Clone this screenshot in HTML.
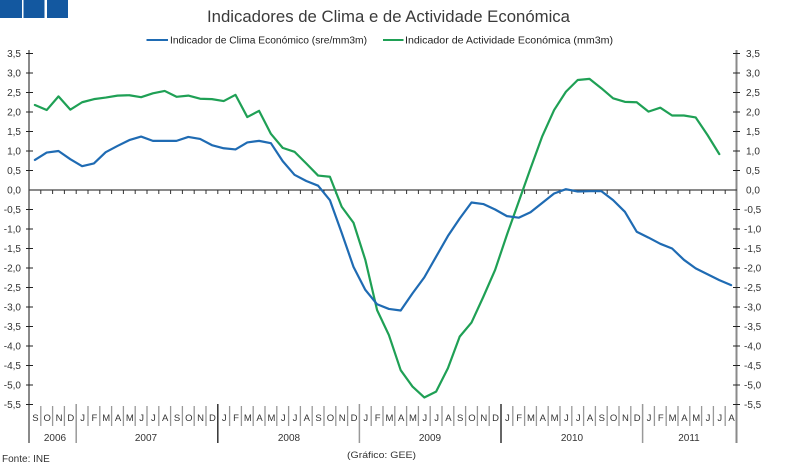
<!DOCTYPE html>
<html><head><meta charset="utf-8"><style>
html,body{margin:0;padding:0;background:#fff;}
svg{display:block;font-family:"Liberation Sans",sans-serif;}
</style></head><body>
<svg width="793" height="468" viewBox="0 0 793 468" xmlns="http://www.w3.org/2000/svg">
<rect x="0" y="0" width="793" height="468" fill="#fff"/>
<rect x="0" y="0" width="22" height="18" fill="#1358a0"/>
<rect x="23.5" y="0" width="21" height="18" fill="#1358a0"/>
<rect x="47" y="0" width="21" height="18" fill="#1358a0"/>
<text x="207" y="22" font-size="16.5" fill="#3a3a3a" textLength="363" lengthAdjust="spacingAndGlyphs">Indicadores de Clima e de Actividade Económica</text>
<line x1="146.5" y1="40" x2="168" y2="40" stroke="#1f6bb3" stroke-width="2"/>
<text x="170" y="43.5" font-size="10" fill="#222" textLength="197" lengthAdjust="spacingAndGlyphs">Indicador de Clima Económico (sre/mm3m)</text>
<line x1="383" y1="40" x2="403.5" y2="40" stroke="#1fa055" stroke-width="2"/>
<text x="405" y="43.5" font-size="10" fill="#222" textLength="208" lengthAdjust="spacingAndGlyphs">Indicador de Actividade Económica (mm3m)</text>

<!-- axes -->
<line x1="29" y1="50" x2="29" y2="443" stroke="#8a8a8a" stroke-width="2"/>
<line x1="736.5" y1="50" x2="736.5" y2="443" stroke="#8a8a8a" stroke-width="2"/>
<g stroke="#222" stroke-width="1">
<path d="M26 53.5H33M26 73H33M26 92.5H33M26 112H33M26 131.5H33M26 151H33M26 170.5H33M26 209.5H33M26 229H33M26 248.5H33M26 268H33M26 287.5H33M26 307H33M26 326.5H33M26 346H33M26 365.5H33M26 385H33M26 404.5H33"/>
<path d="M733 53.5H740M733 73H740M733 92.5H740M733 112H740M733 131.5H740M733 151H740M733 170.5H740M733 209.5H740M733 229H740M733 248.5H740M733 268H740M733 287.5H740M733 307H740M733 326.5H740M733 346H740M733 365.5H740M733 385H740M733 404.5H740"/>
</g>
<line x1="29" y1="190" x2="737" y2="190" stroke="#444" stroke-width="1.2"/>
<g id="zt" stroke="#333" stroke-width="1">
<path d="M40.8 190v4M52.6 190v4M64.4 190v4M76.2 190v4M88 190v4M99.8 190v4M111.6 190v4M123.4 190v4M135.2 190v4M147 190v4M158.8 190v4M170.6 190v4M182.4 190v4M194.2 190v4M206 190v4M217.8 190v4M229.6 190v4M241.4 190v4M253.2 190v4M265 190v4M276.8 190v4M288.6 190v4M300.4 190v4M312.2 190v4M324 190v4M335.8 190v4M347.6 190v4M359.4 190v4M371.2 190v4M383 190v4M394.8 190v4M406.6 190v4M418.4 190v4M430.2 190v4M442 190v4M453.8 190v4M465.6 190v4M477.4 190v4M489.2 190v4M501 190v4M512.8 190v4M524.6 190v4M536.4 190v4M548.2 190v4M560 190v4M571.8 190v4M583.6 190v4M595.4 190v4M607.2 190v4M619 190v4M630.8 190v4M642.6 190v4M654.4 190v4M666.2 190v4M678 190v4M689.8 190v4M701.6 190v4M713.4 190v4M725.2 190v4"/>
</g>

<!-- y labels left -->
<g font-size="10" fill="#333" text-anchor="end">
<text x="21" y="57">3,5</text><text x="21" y="76.5">3,0</text><text x="21" y="96">2,5</text><text x="21" y="115.5">2,0</text><text x="21" y="135">1,5</text><text x="21" y="154.5">1,0</text><text x="21" y="174">0,5</text><text x="21" y="193.5">0,0</text><text x="21" y="213">-0,5</text><text x="21" y="232.5">-1,0</text><text x="21" y="252">-1,5</text><text x="21" y="271.5">-2,0</text><text x="21" y="291">-2,5</text><text x="21" y="310.5">-3,0</text><text x="21" y="330">-3,5</text><text x="21" y="349.5">-4,0</text><text x="21" y="369">-4,5</text><text x="21" y="388.5">-5,0</text><text x="21" y="408">-5,5</text>
</g>
<g font-size="10" fill="#333">
<text x="746" y="57">3,5</text><text x="746" y="76.5">3,0</text><text x="746" y="96">2,5</text><text x="746" y="115.5">2,0</text><text x="746" y="135">1,5</text><text x="746" y="154.5">1,0</text><text x="746" y="174">0,5</text><text x="746" y="193.5">0,0</text><text x="744" y="213">-0,5</text><text x="744" y="232.5">-1,0</text><text x="744" y="252">-1,5</text><text x="744" y="271.5">-2,0</text><text x="744" y="291">-2,5</text><text x="744" y="310.5">-3,0</text><text x="744" y="330">-3,5</text><text x="744" y="349.5">-4,0</text><text x="744" y="369">-4,5</text><text x="744" y="388.5">-5,0</text><text x="744" y="408">-5,5</text>
</g>

<!-- bottom category axis -->
<g stroke="#999" stroke-width="1.3">
<path d="M40.8 406v20M52.6 406v20M64.4 406v20M88 406v20M99.8 406v20M111.6 406v20M123.4 406v20M135.2 406v20M147 406v20M158.8 406v20M170.6 406v20M182.4 406v20M194.2 406v20M206 406v20M229.6 406v20M241.4 406v20M253.2 406v20M265 406v20M276.8 406v20M288.6 406v20M300.4 406v20M312.2 406v20M324 406v20M335.8 406v20M347.6 406v20M371.2 406v20M383 406v20M394.8 406v20M406.6 406v20M418.4 406v20M430.2 406v20M442 406v20M453.8 406v20M465.6 406v20M477.4 406v20M489.2 406v20M512.8 406v20M524.6 406v20M536.4 406v20M548.2 406v20M560 406v20M571.8 406v20M583.6 406v20M595.4 406v20M607.2 406v20M619 406v20M630.8 406v20M654.4 406v20M666.2 406v20M678 406v20M689.8 406v20M701.6 406v20M713.4 406v20M725.2 406v20"/>
</g>
<g stroke-width="1.5">
<line x1="76.2" y1="404" x2="76.2" y2="443" stroke="#999"/>
<line x1="217.8" y1="404" x2="217.8" y2="443" stroke="#333"/>
<line x1="359.4" y1="404" x2="359.4" y2="443" stroke="#999"/>
<line x1="501" y1="404" x2="501" y2="443" stroke="#333"/>
<line x1="642.6" y1="404" x2="642.6" y2="443" stroke="#999"/>
</g>
<g font-size="9.5" fill="#333" text-anchor="middle">
<text x="35.4" y="421">S</text><text x="47.2" y="421">O</text><text x="59" y="421">N</text><text x="70.8" y="421">D</text>
<text x="82.6" y="421">J</text><text x="94.4" y="421">F</text><text x="106.2" y="421">M</text><text x="118" y="421">A</text><text x="129.8" y="421">M</text><text x="141.6" y="421">J</text><text x="153.4" y="421">J</text><text x="165.2" y="421">A</text><text x="177" y="421">S</text><text x="188.8" y="421">O</text><text x="200.6" y="421">N</text><text x="212.4" y="421">D</text>
<text x="224.2" y="421">J</text><text x="236" y="421">F</text><text x="247.8" y="421">M</text><text x="259.6" y="421">A</text><text x="271.4" y="421">M</text><text x="283.2" y="421">J</text><text x="295" y="421">J</text><text x="306.8" y="421">A</text><text x="318.6" y="421">S</text><text x="330.4" y="421">O</text><text x="342.2" y="421">N</text><text x="354" y="421">D</text>
<text x="365.8" y="421">J</text><text x="377.6" y="421">F</text><text x="389.4" y="421">M</text><text x="401.2" y="421">A</text><text x="413" y="421">M</text><text x="424.8" y="421">J</text><text x="436.6" y="421">J</text><text x="448.4" y="421">A</text><text x="460.2" y="421">S</text><text x="472" y="421">O</text><text x="483.8" y="421">N</text><text x="495.6" y="421">D</text>
<text x="507.4" y="421">J</text><text x="519.2" y="421">F</text><text x="531" y="421">M</text><text x="542.8" y="421">A</text><text x="554.6" y="421">M</text><text x="566.4" y="421">J</text><text x="578.2" y="421">J</text><text x="590" y="421">A</text><text x="601.8" y="421">S</text><text x="613.6" y="421">O</text><text x="625.4" y="421">N</text><text x="637.2" y="421">D</text>
<text x="649" y="421">J</text><text x="660.8" y="421">F</text><text x="672.6" y="421">M</text><text x="684.4" y="421">A</text><text x="696.2" y="421">M</text><text x="708" y="421">J</text><text x="719.8" y="421">J</text><text x="731.6" y="421">A</text>
</g>
<g font-size="10" fill="#333" text-anchor="middle">
<text x="55" y="441">2006</text><text x="146" y="441">2007</text><text x="289" y="441">2008</text><text x="430" y="441">2009</text><text x="572" y="441">2010</text><text x="689" y="441">2011</text>
</g>
<text x="2" y="462" font-size="10" fill="#333">Fonte: INE</text>
<text x="347" y="458" font-size="9.5" fill="#333" textLength="69" lengthAdjust="spacingAndGlyphs">(Gráfico: GEE)</text>

<!-- series -->
<g transform="translate(34.9,190) scale(11.8,-39)" fill="none" stroke-linejoin="round" stroke-linecap="round">
<polyline vector-effect="non-scaling-stroke" stroke="#1fa055" stroke-width="2.2" points="0,2.18 1,2.05 2,2.40 3,2.06 4,2.25 5,2.33 6,2.37 7,2.42 8,2.43 9,2.38 10,2.48 11,2.54 12,2.39 13,2.42 14,2.34 15,2.33 16,2.28 17,2.44 18,1.87 19,2.03 20,1.44 21,1.08 22,0.98 23,0.68 24,0.37 25,0.34 26,-0.43 27,-0.84 28,-1.79 29,-3.08 30,-3.72 31,-4.62 32,-5.04 33,-5.32 34,-5.17 35,-4.57 36,-3.76 37,-3.40 38,-2.74 39,-2.05 40,-1.15 41,-0.3 42,0.55 43,1.38 44,2.05 45,2.52 46,2.82 47,2.85 48,2.61 49,2.35 50,2.26 51,2.25 52,2.01 53,2.11 54,1.91 55,1.91 56,1.86 57,1.41 58,0.92"/>
<polyline vector-effect="non-scaling-stroke" stroke="#1f6bb3" stroke-width="2.2" points="0,0.77 1,0.96 2,1.0 3,0.79 4,0.61 5,0.68 6,0.97 7,1.13 8,1.28 9,1.37 10,1.26 11,1.26 12,1.26 13,1.36 14,1.31 15,1.15 16,1.07 17,1.04 18,1.22 19,1.26 20,1.20 21,0.74 22,0.39 23,0.23 24,0.11 25,-0.26 26,-1.1 27,-1.97 28,-2.56 29,-2.93 30,-3.05 31,-3.09 32,-2.65 33,-2.24 34,-1.71 35,-1.18 36,-0.73 37,-0.32 38,-0.36 39,-0.5 40,-0.67 41,-0.71 42,-0.57 43,-0.33 44,-0.09 45,0.02 46,-0.04 47,-0.03 48,-0.03 49,-0.26 50,-0.56 51,-1.07 52,-1.22 53,-1.38 54,-1.50 55,-1.79 56,-2.01 57,-2.16 58,-2.31 59,-2.44"/>
</g>
</svg>
</body></html>
